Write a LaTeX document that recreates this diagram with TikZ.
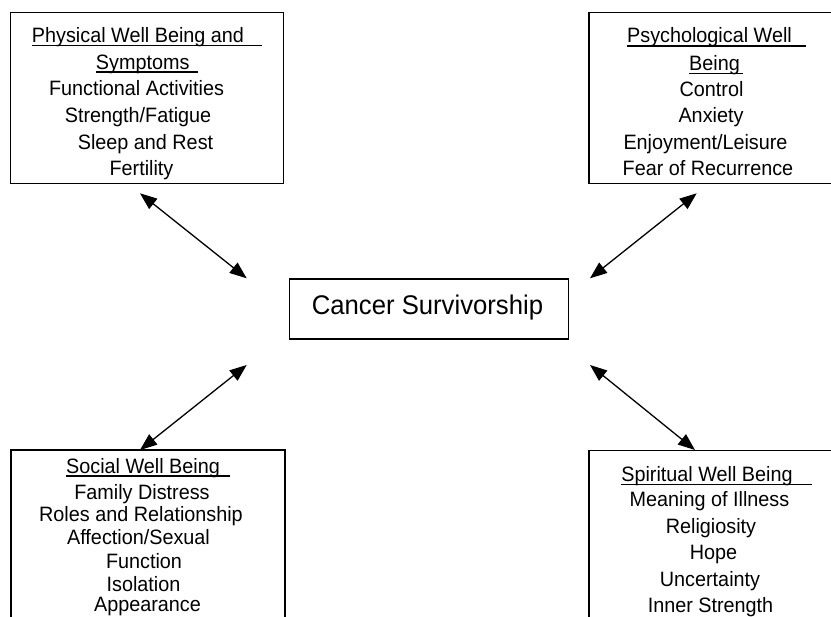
\documentclass[tikz,border=0pt]{standalone}
\usepackage{fontspec}
\setmainfont{Liberation Sans}
\usetikzlibrary{arrows.meta}
\newcommand\myul[2]{\leavevmode\setbox0\hbox{#1\kern#2}\dp0=0pt\vtop{\copy0\kern2.0pt\hrule height 1.5pt width \wd0}}
\tikzset{
  box/.style={draw=black, line width=1.4pt, fill=none, inner sep=0pt},
  ln/.style={anchor=base, inner sep=0pt, font=\fontsize{19.8}{24}\selectfont, yscale=1.05},
  link/.style={line width=1.3pt, {Triangle[length=17pt,width=13pt]}-{Triangle[length=17pt,width=13pt]}}
}
\begin{document}
\begin{tikzpicture}[x=1pt,y=-1pt]
\useasboundingbox (0,0) rectangle (831,617);
% boxes
\node[box, minimum width=272.6pt, minimum height=171pt] (tl) at (147,98) {};
\node[box, minimum width=311pt, minimum height=170.6pt] (tr) at (744.5,98) {};
\node[box, minimum width=274pt, minimum height=250pt] (bl) at (148,575) {};
\node[box, minimum width=311pt, minimum height=250pt] (br) at (744.5,575.7) {};
\node[box, minimum width=279pt, minimum height=60pt] (c) at (428.8,309) {};
\node[anchor=base, inner sep=0pt, font=\fontsize{25.7}{30}\selectfont, yscale=1.05] (ct) at (427.5,315) {Cancer Survivorship};
% top-left text
\node[ln] (tl1) at (147,42.7) {\myul{Physical Well Being and}{18pt}};
\node[ln] (tl2) at (147,69.3) {\myul{Symptoms}{8.5pt}};
\node[ln] (tl3) at (136.5,95.9) {Functional Activities};
\node[ln] (tl4) at (138,122.5) {Strength/Fatigue};
\node[ln] (tl5) at (145.5,149.1) {Sleep and Rest};
\node[ln] (tl6) at (141.5,175.7) {Fertility};
% top-right text
\node[ln] (tr1) at (716.5,43) {\myul{Psychological Well}{14pt}};
\node[ln] (tr2) at (716,70.7) {\myul{Being}{3pt}};
\node[ln] (tr3) at (711.5,96.7) {Control};
\node[ln] (tr4) at (711,122.7) {Anxiety};
\node[ln] (tr5) at (705.5,149.3) {Enjoyment/Leisure};
\node[ln] (tr6) at (708,175.7) {Fear of Recurrence};
% bottom-left text
\node[ln] (bl1) at (148,473.3) {\myul{Social Well Being}{10pt}};
\node[ln] (bl2) at (142,499.3) {Family Distress};
\node[ln] (bl3) at (141,521.7) {Roles and Relationship};
\node[ln] (bl4) at (138.5,544.3) {Affection/Sexual};
\node[ln] (bl5) at (144,568.3) {Function};
\node[ln] (bl6) at (143.5,591.7) {Isolation};
\node[ln] (bl7) at (147.5,611.7) {Appearance};
% bottom-right text
\node[ln] (br1) at (716.5,481.7) {\myul{Spiritual Well Being}{19pt}};
\node[ln] (br2) at (709.5,506.7) {Meaning of Illness};
\node[ln] (br3) at (711,533.3) {Religiosity};
\node[ln] (br4) at (713.5,560) {Hope};
\node[ln] (br5) at (710,586.7) {Uncertainty};
\node[ln] (br6) at (710.5,612.7) {Inner Strength};
% arrow end points
\coordinate (a1) at (140,193.3);
\coordinate (a2) at (246.7,278.3);
\coordinate (b1) at (696.7,193.3);
\coordinate (b2) at (590,278.3);
\coordinate (c1) at (246.7,365);
\coordinate (c2) at (140,450);
\coordinate (d1) at (590,365);
\coordinate (d2) at (695,450);
\draw[link] (a1) -- (a2);
\draw[link] (b1) -- (b2);
\draw[link] (c1) -- (c2);
\draw[link] (d1) -- (d2);
\end{tikzpicture}
\end{document}
